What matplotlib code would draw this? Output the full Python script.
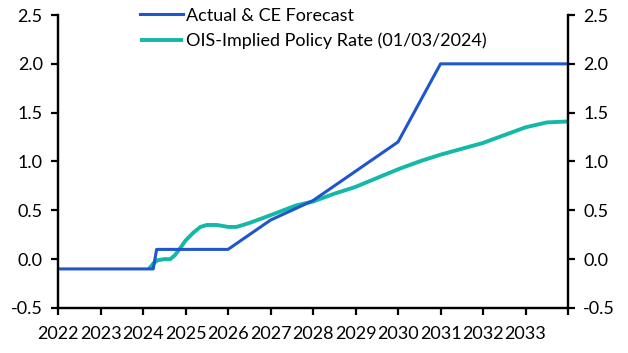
import matplotlib
matplotlib.use("Agg")
import matplotlib.pyplot as plt

plt.rcParams["font.family"] = ["Lato", "DejaVu Sans"]
plt.rcParams["font.size"] = 13

# Actual & CE forecast (year, %)
ce_years = [2022.0, 2024.24, 2024.32, 2026.0, 2027.0, 2028.0, 2030.0, 2031.0, 2034.0]
ce_rate = [-0.1, -0.1, 0.1, 0.1, 0.4, 0.6, 1.2, 2.0, 2.0]

# OIS-implied policy rate (01/03/2024)
ois_years = [2024.14, 2024.25, 2024.35, 2024.5, 2024.64, 2024.75, 2024.87, 2025.0,
             2025.18, 2025.35, 2025.5, 2025.74, 2026.0, 2026.2, 2026.5, 2026.75,
             2027.0, 2027.3, 2027.6, 2028.0, 2028.5, 2029.0, 2029.5, 2030.0,
             2030.5, 2031.0, 2031.5, 2032.0, 2032.5, 2033.0, 2033.5, 2034.0]
ois_rate = [-0.1, -0.04, -0.01, 0.0, 0.0, 0.04, 0.11, 0.19,
            0.27, 0.33, 0.35, 0.35, 0.33, 0.33, 0.37, 0.41,
            0.45, 0.5, 0.55, 0.59, 0.67, 0.74, 0.83, 0.92,
            1.0, 1.07, 1.13, 1.19, 1.27, 1.35, 1.4, 1.41]

year_ticks = list(range(2022, 2035))
year_labels = [str(y) for y in range(2022, 2034)] + [""]
y_ticks = [-0.5, 0.0, 0.5, 1.0, 1.5, 2.0, 2.5]

blue = "#1F56CC"
teal = "#14B8A6"

fig = plt.figure(figsize=(6.28, 3.53), dpi=100)
ax = fig.add_axes([0.0924, 0.1275, 0.8121, 0.83])
ax2 = ax.twinx()

ax.plot(ce_years, ce_rate, color=blue, lw=2.2, label="Actual & CE Forecast", zorder=3)
ax.plot(ois_years, ois_rate, color=teal, lw=2.8, label="OIS-Implied Policy Rate (01/03/2024)",
        zorder=2, solid_capstyle="butt")

for a in (ax, ax2):
    a.set_ylim(-0.5, 2.5)
    a.set_yticks(y_ticks)
    a.set_yticklabels([f"{v:.1f}" for v in y_ticks])
    a.spines["top"].set_visible(False)
    for s in ("left", "right", "bottom"):
        a.spines[s].set_linewidth(1.6)
    a.tick_params(width=1.6, length=5, direction="out", pad=6)

ax.set_xlim(2022, 2034)
ax.set_xticks(year_ticks)
ax.set_xticklabels(year_labels)
ax.tick_params(axis="x", pad=8)

ax.legend(loc="upper left", bbox_to_anchor=(0.146, 1.05), frameon=False,
          handlelength=2.4, handletextpad=0.15, labelspacing=0.5, borderaxespad=0)

fig.savefig("out.png", dpi=100)
